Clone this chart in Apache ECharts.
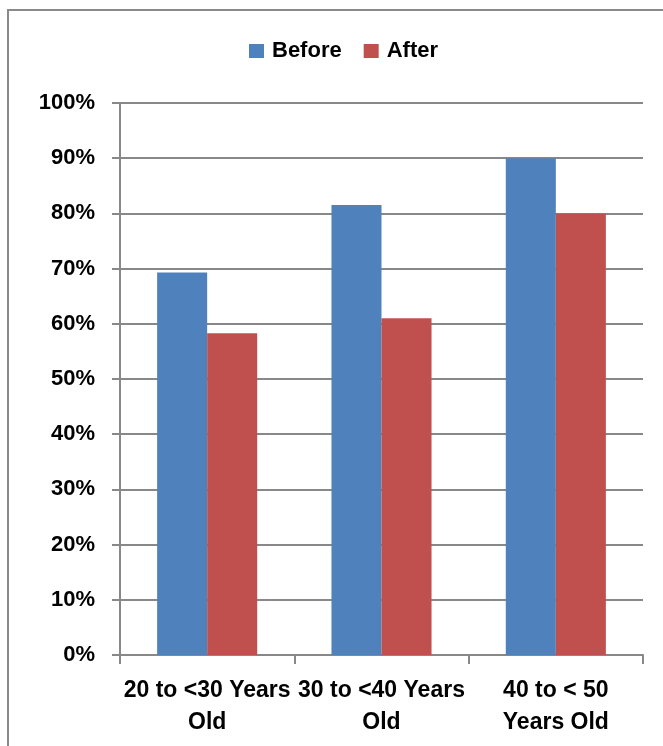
<!DOCTYPE html>
<html>
<head>
<meta charset="utf-8">
<script src="https://cdn.jsdelivr.net/npm/echarts@6/dist/echarts.min.js"></script>
<style>
html,body{margin:0;padding:0;background:#fff;}
#chart{width:663px;height:746px;}
</style>
</head>
<body>
<div id="chart"></div>
<script>
var categories = ['20 to <30 Years\nOld', '30 to <40 Years\nOld', '40 to < 50\nYears Old'];
var beforeValues = [69.3, 81.5, 90.0];
var afterValues = [58.3, 61.0, 80.0];
var seriesNames = ['Before', 'After'];

var FONT = '"Liberation Sans", Arial, sans-serif';
var chart = echarts.init(document.getElementById('chart'), null, {renderer: 'canvas'});
chart.setOption({
  animation: false,
  backgroundColor: '#ffffff',
  graphic: [{
    type: 'rect',
    shape: {x: 8, y: 10, width: 720, height: 800},
    style: {fill: 'none', stroke: '#8a8a8a', lineWidth: 2},
    z: -1
  }],
  legend: {
    data: seriesNames,
    top: 35,
    left: 244,
    itemWidth: 15,
    itemHeight: 14,
    itemGap: 22,
    icon: 'rect',
    textStyle: {fontFamily: FONT, fontWeight: 'bold', fontSize: 22, color: '#000', padding: [0, 0, 0, 3]}
  },
  grid: {left: 120, right: 20, top: 103, bottom: 91},
  xAxis: {
    type: 'category',
    data: categories,
    axisLine: {lineStyle: {color: '#888888', width: 2}},
    axisTick: {show: true, length: 9, lineStyle: {color: '#888888', width: 2}},
    axisLabel: {fontFamily: FONT, fontWeight: 'bold', fontSize: 23, color: '#000', lineHeight: 32, margin: 20, interval: 0}
  },
  yAxis: {
    type: 'value',
    min: 0, max: 100, interval: 10,
    axisLine: {show: true, lineStyle: {color: '#888888', width: 2}},
    axisTick: {show: true, length: 8, lineStyle: {color: '#888888', width: 2}},
    splitLine: {lineStyle: {color: '#888888', width: 2}},
    axisLabel: {fontFamily: FONT, fontWeight: 'bold', fontSize: 22, color: '#000', margin: 25, formatter: '{value}%'}
  },
  series: [
    {name: seriesNames[0], type: 'bar', data: beforeValues, barGap: '0%', barCategoryGap: '42.6%', itemStyle: {color: '#4F81BD'}},
    {name: seriesNames[1], type: 'bar', data: afterValues, barGap: '0%', barCategoryGap: '42.6%', itemStyle: {color: '#C0504D'}}
  ]
});
</script>
</body>
</html>
